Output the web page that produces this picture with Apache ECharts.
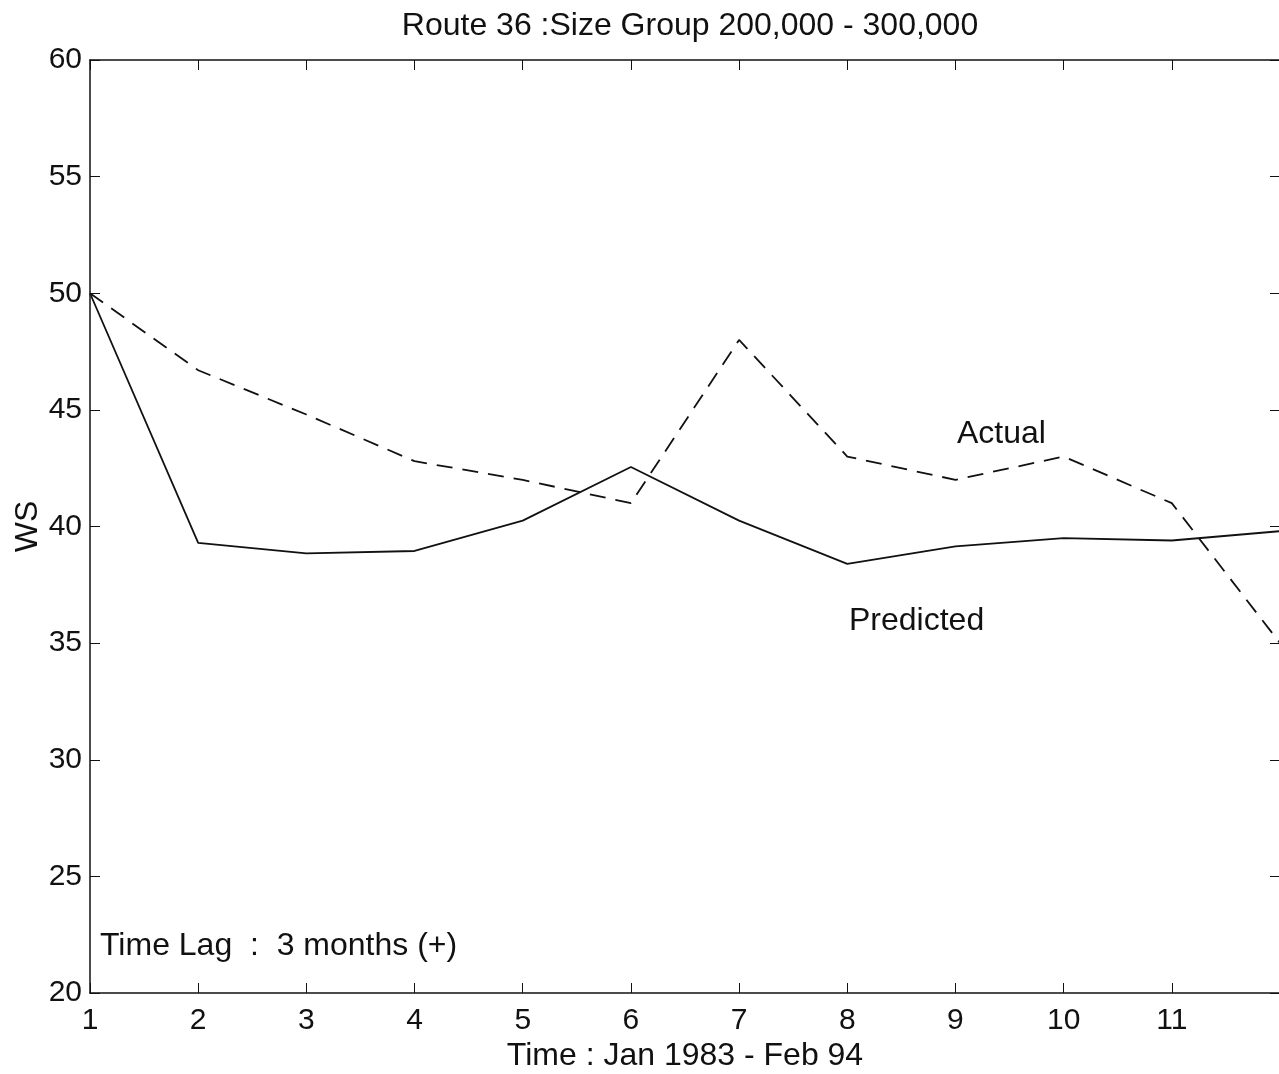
<!DOCTYPE html>
<html>
<head>
<meta charset="utf-8">
<script src="https://cdn.jsdelivr.net/npm/echarts@6/dist/echarts.min.js"></script>
<style>
  html, body { margin: 0; padding: 0; background: #fff; }
  #chart { width: 1279px; height: 1074px; }
</style>
</head>
<body>
<div id="chart"></div>
<script>
// months 1..12 (time lag 3 months)
const months = [1, 2, 3, 4, 5, 6, 7, 8, 9, 10, 11, 12];
const actual = [50.0, 46.7, 44.8, 42.8, 42.0, 41.0, 48.0, 43.0, 42.0, 43.0, 41.0, 35.0];
const predicted = [50.0, 39.3, 38.85, 38.95, 40.25, 42.55, 40.25, 38.4, 39.15, 39.5, 39.4, 39.8];

const FONT = '"Liberation Sans", Arial, Helvetica, sans-serif';
const FS = 30;   // tick labels
const FT = 32;   // title, names, notes
const ink = '#111';

const chart = echarts.init(document.getElementById('chart'));

const pairs = (ys) => months.map((m, i) => [m, ys[i]]);

chart.setOption({
  animation: false,
  backgroundColor: '#fff',
  textStyle: { fontFamily: FONT, color: ink },
  title: {
    text: 'Route 36 :Size Group 200,000 - 300,000',
    left: 685,
    textAlign: 'center',
    top: 5,
    textStyle: { fontFamily: FONT, fontSize: FT, fontWeight: 'normal', color: ink },
  },
  grid: { left: 90, top: 60, width: 1190, height: 933, outerBoundsMode: 'none', containLabel: false },
  xAxis: [
    {
      type: 'value',
      min: 1,
      max: 12,
      interval: 1,
      name: 'Time : Jan 1983 - Feb 94',
      nameLocation: 'middle',
      nameGap: 47,
      nameMoveOverlap: false,
      nameTextStyle: { fontFamily: FONT, fontSize: FT, color: ink },
      axisLine: { show: true, onZero: false, lineStyle: { color: ink, width: 1.5 } },
      axisTick: { show: true, inside: true, length: 10, lineStyle: { color: ink, width: 1 } },
      axisLabel: {
        fontFamily: FONT, fontSize: FS, color: ink, margin: 13,
        formatter: (v) => (v === 12 ? '' : String(v)),
      },
      splitLine: { show: false },
    },
    {
      type: 'value',
      position: 'top',
      min: 1,
      max: 12,
      interval: 1,
      axisLine: { show: true, onZero: false, lineStyle: { color: ink, width: 1.5 } },
      axisTick: { show: true, inside: true, length: 10, lineStyle: { color: ink, width: 1 } },
      axisLabel: { show: false },
      splitLine: { show: false },
    },
  ],
  yAxis: [
    {
      type: 'value',
      min: 20,
      max: 60,
      interval: 5,
      name: 'WS',
      nameLocation: 'middle',
      nameGap: 46,
      nameMoveOverlap: false,
      nameRotate: 90,
      nameTextStyle: { fontFamily: FONT, fontSize: FT, color: ink },
      axisLine: { show: true, onZero: false, lineStyle: { color: ink, width: 1.5 } },
      axisTick: { show: true, inside: true, length: 10, lineStyle: { color: ink, width: 1 } },
      axisLabel: { fontFamily: FONT, fontSize: FS, color: ink, margin: 8 },
      splitLine: { show: false },
    },
    {
      type: 'value',
      position: 'right',
      min: 20,
      max: 60,
      interval: 5,
      axisLine: { show: true, onZero: false, lineStyle: { color: ink, width: 1.5 } },
      axisTick: { show: true, inside: true, length: 10, lineStyle: { color: ink, width: 1 } },
      axisLabel: { show: false },
      splitLine: { show: false },
    },
  ],
  graphic: [
    { type: 'text', x: 957, y: 434, style: { text: 'Actual', font: FT + 'px ' + FONT, fill: ink, verticalAlign: 'middle' } },
    { type: 'text', x: 849, y: 621, style: { text: 'Predicted', font: FT + 'px ' + FONT, fill: ink, verticalAlign: 'middle' } },
    { type: 'text', x: 100, y: 946, style: { text: 'Time Lag  :  3 months (+)', font: FT + 'px ' + FONT, fill: ink, verticalAlign: 'middle' } },
  ],
  series: [
    {
      name: 'Actual',
      type: 'line',
      data: pairs(actual),
      symbol: 'none',
      clip: true,
      lineStyle: { color: ink, width: 1.8, type: [16, 10] },
    },
    {
      name: 'Predicted',
      type: 'line',
      data: pairs(predicted),
      symbol: 'none',
      clip: true,
      lineStyle: { color: ink, width: 1.8, type: 'solid' },
    },
  ],
});
</script>
</body>
</html>
